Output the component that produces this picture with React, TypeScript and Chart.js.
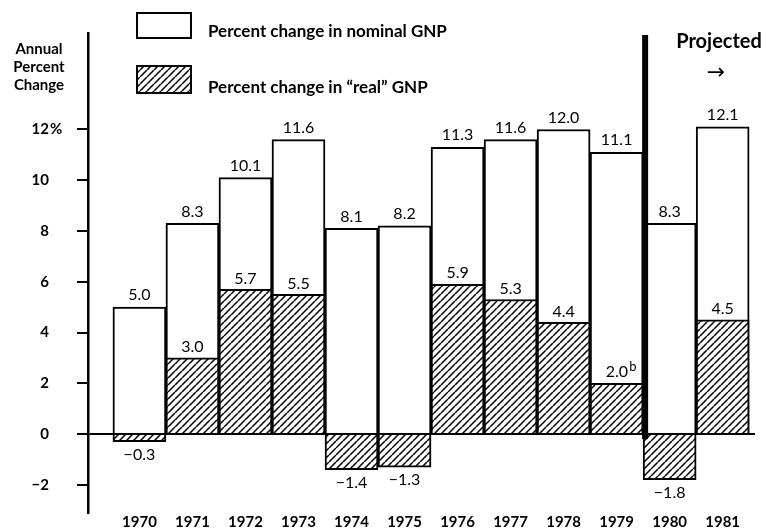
import { useEffect, useRef } from 'react';
import { Chart, registerables } from 'chart.js';

Chart.register(...registerables);

const years = ['1970', '1971', '1972', '1973', '1974', '1975', '1976', '1977', '1978', '1979', '1980', '1981'];
const nominalGNP = [5.0, 8.3, 10.1, 11.6, 8.1, 8.2, 11.3, 11.6, 12.0, 11.1, 8.3, 12.1];
const realGNP = [-0.3, 3.0, 5.7, 5.5, -1.4, -1.3, 5.9, 5.3, 4.4, 2.0, -1.8, 4.5];
const realNotes = ['', '', '', '', '', '', '', '', '', 'b', '', ''];
const yTickValues = [-2, 0, 2, 4, 6, 8, 10, 12];
const yAxisTitle = ['Annual', 'Percent', 'Change'];
const legendLabels = ['Percent change in nominal GNP', 'Percent change in “real” GNP'];
const projectedLabel = 'Projected';
const projectionStartIndex = 10;

const FONT = 'Lato, "Open Sans", "DejaVu Sans", sans-serif';

function makeHatch(): CanvasPattern | string {
  const w = 7;
  const h = 7;
  const c = document.createElement('canvas');
  c.width = w;
  c.height = h;
  const g = c.getContext('2d');
  if (!g) return '#888';
  g.fillStyle = '#fff';
  g.fillRect(0, 0, w, h);
  g.strokeStyle = '#000';
  g.lineWidth = 1.5;
  g.beginPath();
  for (const off of [-w, 0, w]) {
    g.moveTo(off, h);
    g.lineTo(off + w, 0);
  }
  g.stroke();
  return g.createPattern(c, 'repeat') || '#888';
}

function fmt(v: number) {
  return v < 0 ? '\u2212' + Math.abs(v).toFixed(1) : v.toFixed(1);
}

export default function App() {
  const ref = useRef<HTMLCanvasElement>(null);

  useEffect(() => {
    document.body.style.margin = '0';
    const canvas = ref.current;
    if (!canvas) return;
    const hatch = makeHatch();

    const overlay = {
      id: 'overlay',
      afterDraw(chart: any) {
        const ctx = chart.ctx as CanvasRenderingContext2D;
        const xs = chart.scales.x;
        const ys = chart.scales.y;
        ctx.save();
        ctx.fillStyle = '#000';
        ctx.strokeStyle = '#000';

        // value labels
        ctx.textAlign = 'center';
        ctx.textBaseline = 'middle';
        ctx.font = `16px ${FONT}`;
        const nomMeta = chart.getDatasetMeta(1);
        nomMeta.data.forEach((el: any, i: number) => {
          ctx.fillText(fmt(nominalGNP[i]), el.x, el.y - 12);
        });
        const realMeta = chart.getDatasetMeta(0);
        realMeta.data.forEach((el: any, i: number) => {
          const v = realGNP[i];
          const txt = fmt(v);
          const note = realNotes[i];
          const y = v >= 0 ? el.y - 11 : el.y + 13;
          if (note) {
            ctx.font = `16px ${FONT}`;
            const w1 = ctx.measureText(txt).width;
            ctx.font = `13px ${FONT}`;
            const w2 = ctx.measureText(note).width;
            const start = el.x + 4 - (w1 + w2) / 2;
            ctx.textAlign = 'left';
            ctx.font = `16px ${FONT}`;
            ctx.fillText(txt, start, y);
            ctx.font = `13px ${FONT}`;
            ctx.fillText(note, start + w1 + 1, y - 5);
            ctx.textAlign = 'center';
            ctx.font = `16px ${FONT}`;
          } else {
            ctx.fillText(txt, el.x, y);
          }
        });

        // projection divider
        const dx = xs.getPixelForValue(projectionStartIndex - 0.5) + 2;
        ctx.fillRect(dx - 3, 35, 6, ys.getPixelForValue(0) - 35 + 5);

        // percent sign next to top tick
        ctx.font = `bold 15px ${FONT}`;
        ctx.textAlign = 'left';
        ctx.fillText('%', 50, ys.getPixelForValue(12));

        // y axis title
        ctx.textAlign = 'center';
        ctx.font = `bold 15px ${FONT}`;
        yAxisTitle.forEach((t, i) => ctx.fillText(t, 39, 49 + i * 18));

        // legend
        ctx.lineWidth = 2;
        ctx.fillStyle = '#fff';
        ctx.fillRect(137, 13, 54, 25);
        ctx.strokeRect(137, 13, 54, 25);
        ctx.fillStyle = hatch as any;
        ctx.fillRect(137, 66, 54, 27);
        ctx.strokeRect(137, 66, 54, 27);
        ctx.fillStyle = '#000';
        ctx.textAlign = 'left';
        ctx.font = `bold 17px ${FONT}`;
        ctx.fillText(legendLabels[0], 208, 32);
        ctx.fillText(legendLabels[1], 208, 88);

        // projected
        ctx.textAlign = 'center';
        ctx.font = `bold 20px ${FONT}`;
        ctx.fillText(projectedLabel, 719, 42);
        ctx.font = `22px "DejaVu Sans", sans-serif`;
        ctx.fillText('\u2192', 716, 73);

        ctx.restore();
      },
    };

    const chart = new Chart(canvas, {
      type: 'bar',
      data: {
        datasets: [
          {
            label: 'Percent change in “real” GNP',
            data: realGNP.map((v, i) => ({ x: i, y: v })),
            backgroundColor: hatch as any,
            borderColor: '#000',
            borderWidth: 2,
            grouped: false,
            barPercentage: 1,
            categoryPercentage: 1,
            order: 0,
          },
          {
            label: 'Percent change in nominal GNP',
            data: nominalGNP.map((v, i) => ({ x: i, y: v })),
            backgroundColor: '#fff',
            borderColor: '#000',
            borderWidth: 2,
            grouped: false,
            barPercentage: 1,
            categoryPercentage: 1,
            order: 1,
          },
        ],
      },
      options: {
        responsive: false,
        animation: false,
        devicePixelRatio: 1,
        layout: { padding: { top: 33, right: 11, bottom: 0, left: 0 } },
        plugins: { legend: { display: false }, tooltip: { enabled: false } },
        scales: {
          x: {
            type: 'linear',
            offset: false,
            min: -0.97,
            max: 11.61,
            afterBuildTicks: (s: any) => {
              s.ticks = years.map((_, i) => ({ value: i }));
            },
            afterFit: (s: any) => {
              s.height = 17;
              s.paddingLeft = 0;
              s.paddingRight = 0;
            },
            grid: { display: false, drawTicks: false },
            border: { display: false },
            ticks: {
              autoSkip: false,
              maxRotation: 0,
              padding: 0,
              color: '#000',
              font: { family: FONT, size: 15, weight: 'bold' },
              callback: (v: any) => years[Math.round(Number(v))] ?? '',
            },
          },
          y: {
            type: 'linear',
            min: -3.11,
            max: 15.8,
            z: 1,
            afterBuildTicks: (s: any) => {
              s.ticks = yTickValues.map((v) => ({ value: v }));
            },
            afterFit: (s: any) => {
              s.width = 88;
              s.paddingTop = 0;
              s.paddingBottom = 0;
            },
            border: { display: true, color: '#000', width: 2.5 },
            grid: {
              drawOnChartArea: true,
              drawTicks: true,
              tickLength: 11,
              lineWidth: 2,
              color: (c: any) => (c.tick && c.tick.value === 0 ? '#000' : 'rgba(0,0,0,0)'),
              tickColor: '#000',
            },
            ticks: {
              padding: 28,
              color: '#000',
              font: { family: FONT, size: 15, weight: 'bold' },
              callback: (v: any) => (Number(v) < 0 ? '\u2212' + Math.abs(Number(v)) : String(v)),
            },
          },
        },
      },
      plugins: [overlay],
    });

    return () => chart.destroy();
  }, []);

  return <canvas ref={ref} width={766} height={530} style={{ display: 'block' }} />;
}
